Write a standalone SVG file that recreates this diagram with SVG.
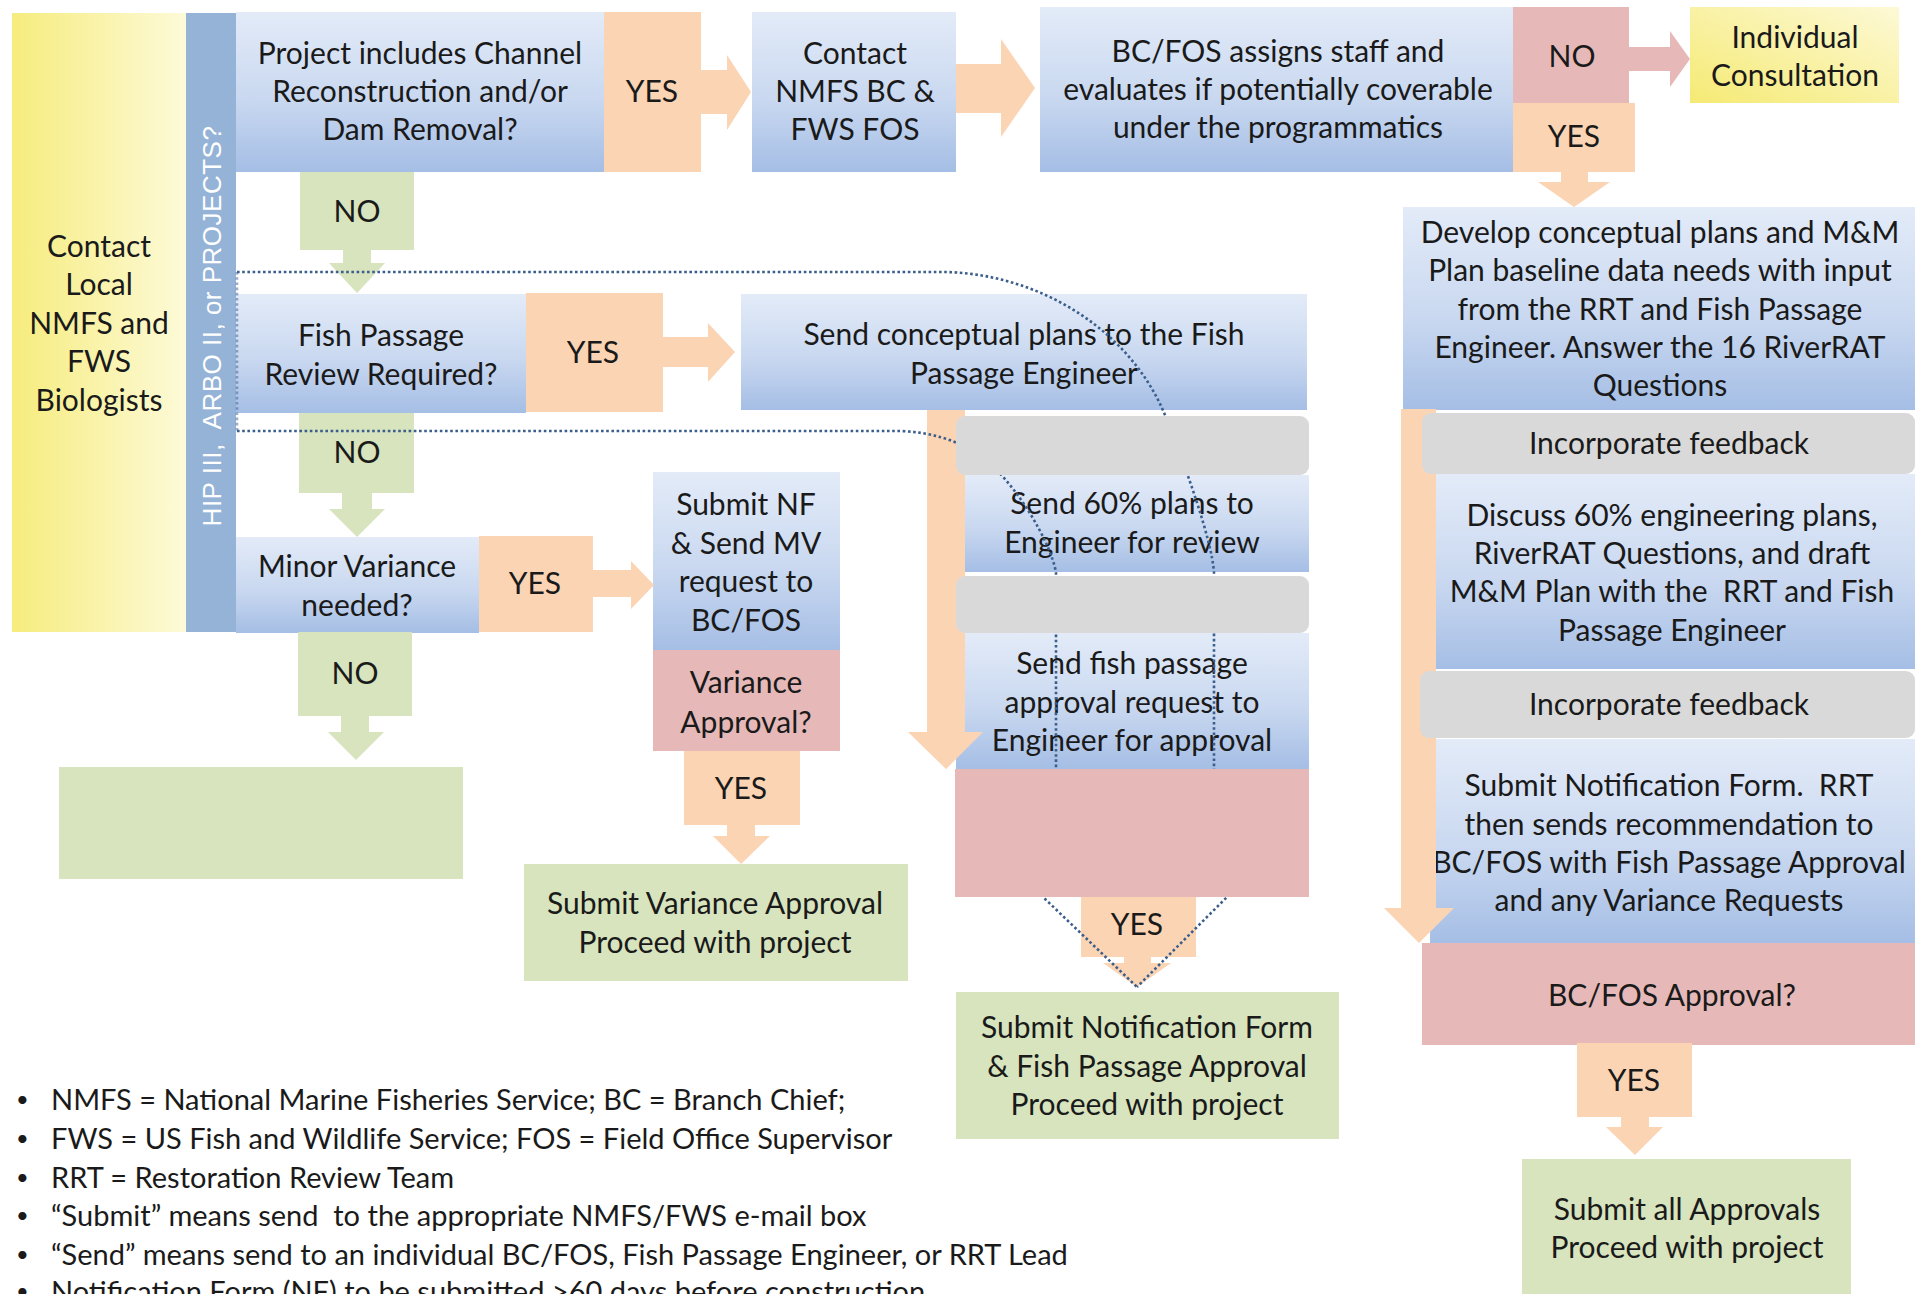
<svg xmlns="http://www.w3.org/2000/svg" width="1921" height="1294" viewBox="0 0 1921 1294">
<defs>
<linearGradient id="gBlue" x1="0" y1="0" x2="0" y2="1">
<stop offset="0" stop-color="#E3EBF8"/><stop offset="0.55" stop-color="#C9D8F0"/><stop offset="1" stop-color="#A5BEE5"/>
</linearGradient>
<linearGradient id="gYel" x1="0" y1="0" x2="1" y2="0">
<stop offset="0" stop-color="#F6EC7E"/><stop offset="1" stop-color="#FDFAD8"/>
</linearGradient>
<linearGradient id="gYel2" x1="0" y1="1" x2="1" y2="0">
<stop offset="0" stop-color="#F5EA74"/><stop offset="1" stop-color="#FDF9D6"/>
</linearGradient>
<style>
.t{font-family:Lato,"Liberation Sans",sans-serif;font-size:30px;fill:#1a1a1a;text-anchor:middle;white-space:pre}
.fn{text-anchor:start;font-size:29px}
.bul{text-anchor:start;font-size:22px}
.blue{fill:url(#gBlue)}
.org{fill:#FBD4B4}
.grn{fill:#D7E4BD}
.pnk{fill:#E6B9B8}
.gry{fill:#D9D9D9}
.dot{fill:none;stroke:#3B5E8C;stroke-width:2.6;stroke-dasharray:2.6 2.6}
</style>
</defs>
<rect width="1921" height="1294" fill="#ffffff"/>

<g id="nodes-back">
<g id="n-contact-local">
<rect x="12" y="13" width="174" height="619" fill="url(#gYel)"/>
<text class="t"><tspan x="99" y="257">Contact</tspan><tspan x="99" y="295">Local</tspan><tspan x="99" y="334">NMFS and</tspan><tspan x="99" y="372">FWS</tspan><tspan x="99" y="411">Biologists</tspan></text>
</g>
<g id="n-strip">
<rect x="186" y="13" width="50" height="619" fill="#95B3D7"/>
<text class="t" xml:space="preserve" transform="translate(221,326) rotate(-90)" style="font-family:'Liberation Sans',sans-serif;font-size:26px;letter-spacing:0.5px;fill:#ffffff">HIP III,  ARBO II, or PROJECTS?</text>
</g>
<g id="n-channel">
<rect x="236" y="12" width="368" height="160" class="blue"/>
<text class="t"><tspan x="420" y="64">Project includes Channel</tspan><tspan x="420" y="102">Reconstruction and/or</tspan><tspan x="420" y="140">Dam Removal?</tspan></text>
</g>
<g id="n-contact-bc">
<rect x="752" y="12" width="204" height="160" class="blue"/>
<text class="t"><tspan x="855" y="64">Contact</tspan><tspan x="855" y="102">NMFS BC &amp;</tspan><tspan x="855" y="140">FWS FOS</tspan></text>
</g>
<g id="n-assigns">
<rect x="1040" y="7" width="473" height="165" class="blue"/>
<text class="t"><tspan x="1278" y="62">BC/FOS assigns staff and</tspan><tspan x="1278" y="100">evaluates if potentially coverable</tspan><tspan x="1278" y="138">under the programmatics</tspan></text>
</g>
<g id="n-individual">
<rect x="1690" y="7" width="209" height="96" fill="url(#gYel2)"/>
<text class="t"><tspan x="1795" y="48">Individual</tspan><tspan x="1795" y="86">Consultation</tspan></text>
</g>
<g id="n-develop">
<rect x="1403" y="207" width="512" height="203" class="blue"/>
<text class="t"><tspan x="1660" y="243">Develop conceptual plans and M&amp;M</tspan><tspan x="1660" y="281">Plan baseline data needs with input</tspan><tspan x="1660" y="320">from the RRT and Fish Passage</tspan><tspan x="1660" y="358">Engineer. Answer the 16 RiverRAT</tspan><tspan x="1660" y="396">Questions</tspan></text>
</g>
<g id="n-fishpassage">
<rect x="236" y="294" width="290" height="119" class="blue"/>
<text class="t"><tspan x="381" y="346">Fish Passage</tspan><tspan x="381" y="385">Review Required?</tspan></text>
</g>
<g id="n-sendconceptual">
<rect x="741" y="294" width="566" height="116" class="blue"/>
<text class="t"><tspan x="1024" y="345">Send conceptual plans to the Fish</tspan><tspan x="1024" y="384">Passage Engineer</tspan></text>
</g>
<g id="n-minor">
<rect x="236" y="537" width="243" height="96" class="blue"/>
<text class="t"><tspan x="357" y="577">Minor Variance</tspan><tspan x="357" y="616">needed?</tspan></text>
</g>
<g id="n-submitnf">
<rect x="653" y="472" width="187" height="178" class="blue"/>
<text class="t"><tspan x="746" y="515">Submit NF</tspan><tspan x="746" y="554">&amp; Send MV</tspan><tspan x="746" y="592">request to</tspan><tspan x="746" y="631">BC/FOS</tspan></text>
</g>
<g id="n-variance">
<rect x="653" y="650" width="187" height="101" class="pnk"/>
<text class="t"><tspan x="746" y="693">Variance</tspan><tspan x="746" y="733">Approval?</tspan></text>
</g>
<g id="n-submitvariance">
<rect x="524" y="864" width="384" height="117" class="grn"/>
<text class="t"><tspan x="715" y="914">Submit Variance Approval</tspan><tspan x="715" y="953">Proceed with project</tspan></text>
</g>
<g id="n-empty-green">
<rect x="59" y="767" width="404" height="112" class="grn"/>
</g>
<g id="n-send60">
<rect x="960" y="475" width="349" height="97" class="blue"/>
<text class="t"><tspan x="1132" y="514">Send 60% plans to</tspan><tspan x="1132" y="553">Engineer for review</tspan></text>
</g>
<g id="n-sendfish">
<rect x="956" y="633" width="353" height="136" class="blue"/>
<text class="t"><tspan x="1132" y="674">Send fish passage</tspan><tspan x="1132" y="713">approval request to</tspan><tspan x="1132" y="751">Engineer for approval</tspan></text>
</g>
<g id="n-submitnf-fp">
<rect x="956" y="992" width="383" height="147" class="grn"/>
<text class="t"><tspan x="1147" y="1038">Submit Notification Form</tspan><tspan x="1147" y="1077">&amp; Fish Passage Approval</tspan><tspan x="1147" y="1115">Proceed with project</tspan></text>
</g>
<g id="n-discuss">
<rect x="1430" y="474" width="485" height="195" class="blue"/>
<text class="t" xml:space="preserve"><tspan x="1672" y="526">Discuss 60% engineering plans,</tspan><tspan x="1672" y="564">RiverRAT Questions, and draft</tspan><tspan x="1672" y="602">M&amp;M Plan with the  RRT and Fish</tspan><tspan x="1672" y="641">Passage Engineer</tspan></text>
</g>
<g id="n-submitnf-rrt">
<rect x="1430" y="739" width="485" height="204" class="blue"/>
<text class="t" xml:space="preserve"><tspan x="1669" y="796">Submit Notification Form.  RRT</tspan><tspan x="1669" y="835">then sends recommendation to</tspan><tspan x="1669" y="873">BC/FOS with Fish Passage Approval</tspan><tspan x="1669" y="911">and any Variance Requests</tspan></text>
</g>
<g id="n-bcfos-approval">
<rect x="1422" y="943" width="493" height="102" class="pnk"/>
<text class="t" x="1672" y="1006">BC/FOS Approval?</text>
</g>
<g id="n-submitall">
<rect x="1522" y="1159" width="329" height="140" class="grn"/>
<text class="t"><tspan x="1687" y="1220">Submit all Approvals</tspan><tspan x="1687" y="1258">Proceed with project</tspan></text>
</g>
</g>

<g id="connectors">
<g class="org">
<path d="M604,12 H701 V70 H727 V55 L751,92 L727,130 V114 H701 V172 H604 Z"/>
<path d="M956,64 H1001 V39 L1035,88 L1001,137 V113 H956 Z"/>
<path d="M1513,103 H1635 V172 H1588 V182 H1610 L1574,207 L1538,182 H1561 V172 H1513 Z"/>
<path d="M526,293 H663 V337 H708 V323 L735,352 L708,382 V367 H663 V412 H526 Z"/>
<path d="M479,536 H593 V570 H631 V561 L654,585 L631,609 V597 H593 V632 H479 Z"/>
<path d="M684,751 H800 V825 H755 V836 H770 L741,864 L713,836 H727 V825 H684 Z"/>
<path d="M927,410 H965 V732 H983 L946,769 L908,732 H927 Z"/>
<path d="M1081,897 H1196 V957 H1151 V963 H1171 L1137,987 L1103,963 H1124 V957 H1081 Z"/>
<path d="M1401,409 H1436 V908 H1454 L1419,943 L1384,908 H1401 Z"/>
<path d="M1577,1043 H1692 V1117 H1649 V1127 H1663 L1635,1155 L1606,1127 H1621 V1117 H1577 Z"/>
</g>
<path class="pnk" d="M1513,7 H1629 V47 H1670 V31 L1690,59 L1670,87 V71 H1629 V103 H1513 Z"/>
<g class="grn">
<path d="M300,172 H414 V250 H371 V263 H385 L357,293 L329,263 H343 V250 H300 Z"/>
<path d="M299,413 H414 V493 H372 V509 H385 L357,537 L329,509 H342 V493 H299 Z"/>
<path d="M298,632 H412 V716 H369 V732 H384 L356,760 L328,732 H341 V716 H298 Z"/>
</g>
<text class="t"><tspan x="652" y="102">YES</tspan><tspan x="1572" y="67">NO</tspan><tspan x="1574" y="147">YES</tspan><tspan x="357" y="222">NO</tspan><tspan x="593" y="363">YES</tspan><tspan x="357" y="463">NO</tspan><tspan x="535" y="594">YES</tspan><tspan x="355" y="684">NO</tspan><tspan x="741" y="799">YES</tspan><tspan x="1137" y="935">YES</tspan><tspan x="1634" y="1091">YES</tspan></text>
<path class="dot" d="M237,272 H945 C1040,274 1130,330 1165,415 C1185,465 1212,540 1214,573 V769 L1227,897 L1137,987"/>
<path class="dot" d="M237,431 H900 C930,432 955,440 975,452 C1015,478 1052,545 1056,573 V769 L1043,897 L1137,987"/>
<path class="dot" d="M237,272 V431" opacity="0.5"/>
</g>

<g id="nodes-front">
<rect id="n-gray1" x="956" y="416" width="353" height="59" rx="9" class="gry"/>
<rect id="n-gray2" x="956" y="576" width="353" height="57" rx="9" class="gry"/>
<rect id="n-pink-empty" x="955" y="769" width="354" height="128" class="pnk"/>
<g id="n-feedback1">
<rect x="1422" y="413" width="493" height="61" rx="9" class="gry"/>
<text class="t" x="1669" y="454">Incorporate feedback</text>
</g>
<g id="n-feedback2">
<rect x="1420" y="671" width="495" height="67" rx="9" class="gry"/>
<text class="t" x="1669" y="715">Incorporate feedback</text>
</g>
</g>

<g id="notes">
<text class="t bul"><tspan x="16" y="1107">•</tspan><tspan x="16" y="1146">•</tspan><tspan x="16" y="1185">•</tspan><tspan x="16" y="1223">•</tspan><tspan x="16" y="1262">•</tspan><tspan x="16" y="1299">•</tspan></text>
<text class="t fn" xml:space="preserve"><tspan x="51" y="1110">NMFS = National Marine Fisheries Service; BC = Branch Chief;</tspan><tspan x="51" y="1149">FWS = US Fish and Wildlife Service; FOS = Field Office Supervisor</tspan><tspan x="51" y="1188">RRT = Restoration Review Team</tspan><tspan x="51" y="1226">“Submit” means send  to the appropriate NMFS/FWS e-mail box</tspan><tspan x="51" y="1265">“Send” means send to an individual BC/FOS, Fish Passage Engineer, or RRT Lead</tspan><tspan x="51" y="1302">Notification Form (NF) to be submitted &gt;60 days before construction</tspan></text>
</g>
</svg>
